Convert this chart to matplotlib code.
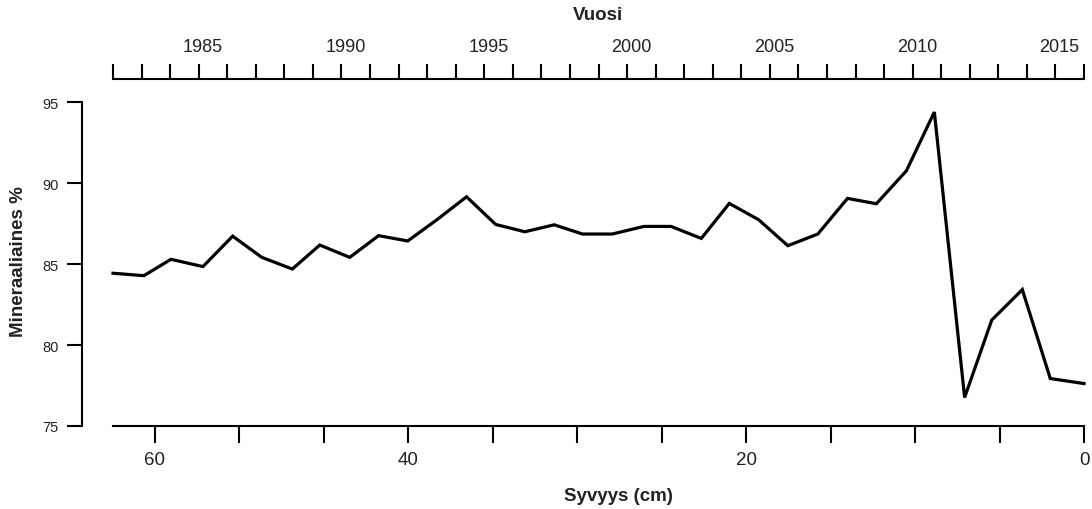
import matplotlib
matplotlib.use("Agg")
import matplotlib.pyplot as plt
from matplotlib.transforms import ScaledTranslation

plt.rcParams['font.family'] = ['Liberation Sans', 'DejaVu Sans']

# ---- data ----
years = [1982.0, 1983.08, 1984.03, 1985.15, 1986.19, 1987.21, 1988.28, 1989.24,
         1990.29, 1991.30, 1992.32, 1993.37, 1994.38, 1995.40, 1996.42, 1997.45,
         1998.44, 1999.48, 2000.59, 2001.54, 2002.60, 2003.58, 2004.61, 2005.63,
         2006.68, 2007.72, 2008.73, 2009.78, 2010.76, 2011.82, 2012.77, 2013.84,
         2014.82, 2016.0]
mineral = [84.43, 84.28, 85.29, 84.84, 86.72, 85.41, 84.69, 86.17,
           85.41, 86.75, 86.42, 87.77, 89.15, 87.44, 86.99, 87.42,
           86.85, 86.85, 87.32, 87.32, 86.58, 88.74, 87.73, 86.13,
           86.85, 89.05, 88.72, 90.75, 94.38, 76.76, 81.54, 83.42,
           77.93, 77.62]

year_ticks = list(range(1982, 2017))
year_labels = [str(y) if y % 5 == 0 else '' for y in year_ticks]
depth_ticks = list(range(0, 60, 5))
depth_labels = ['0', '', '', '', '20', '', '', '', '40', '', '', '60']
y_ticks = [75, 80, 85, 90, 95]

SURFACE_YEAR = 2016.0
CM_PER_YEAR = 1.69

def year2depth(y):
    return (SURFACE_YEAR - y) * CM_PER_YEAR

def depth2year(d):
    return SURFACE_YEAR - d / CM_PER_YEAR

W, H, DPI = 1092, 510, 100
fig = plt.figure(figsize=(W / DPI, H / DPI), dpi=DPI)
fig.patch.set_facecolor('white')

left_px, right_px, top_px, bottom_px = 113, 1084, 80, 427
ax = fig.add_axes([left_px / W, 1 - bottom_px / H,
                   (right_px - left_px) / W, (bottom_px - top_px) / H])

ax.plot(years, mineral, color='black', lw=2.3, solid_joinstyle='miter', clip_on=False)

ax.set_xlim(1982, 2016)
ax.set_ylim(75, 96.42)

tc = '#222222'
# top year axis
ax.xaxis.tick_top()
ax.set_xticks(year_ticks, labels=year_labels)
ax.tick_params(axis='x', which='major', direction='out', length=11, width=1.5,
               pad=6, labelsize=13, colors='black', labelcolor=tc)
for lab in ax.get_xticklabels():
    lab.set_transform(lab.get_transform() + ScaledTranslation(3 / 72, 0, fig.dpi_scale_trans))

# left axis
ax.set_yticks(y_ticks)
ax.tick_params(axis='y', direction='out', length=11, width=1.5, pad=6,
               labelsize=10.5, colors='black', labelcolor=tc)
ax.spines['left'].set_bounds(75, 95)
ax.spines['left'].set_position(('outward', 22))
ax.spines['right'].set_visible(False)
ax.spines['bottom'].set_visible(False)
for s in ['left', 'top']:
    ax.spines[s].set_linewidth(1.5)

# bottom depth axis
sec = ax.secondary_xaxis('bottom', functions=(year2depth, depth2year))
sec.set_xticks(depth_ticks, labels=depth_labels)
sec.tick_params(direction='out', length=12, width=1.5, pad=6, labelsize=13.5,
                colors='black', labelcolor=tc)
sec.spines['bottom'].set_linewidth(1.5)

# titles
fig.text(598 / W, 1 - 15 / H, 'Vuosi', ha='center', va='center',
         fontsize=13.5, fontweight='bold', color=tc)
fig.text(618 / W, 1 - 497 / H, 'Syvyys (cm)', ha='center', va='center',
         fontsize=13.5, fontweight='bold', color=tc)
fig.text(19 / W, 1 - 262 / H, 'Mineraaliaines %', ha='center', va='center',
         rotation=90, fontsize=13.5, fontweight='bold', color=tc)

fig.savefig('out.png', dpi=DPI, facecolor='white')
